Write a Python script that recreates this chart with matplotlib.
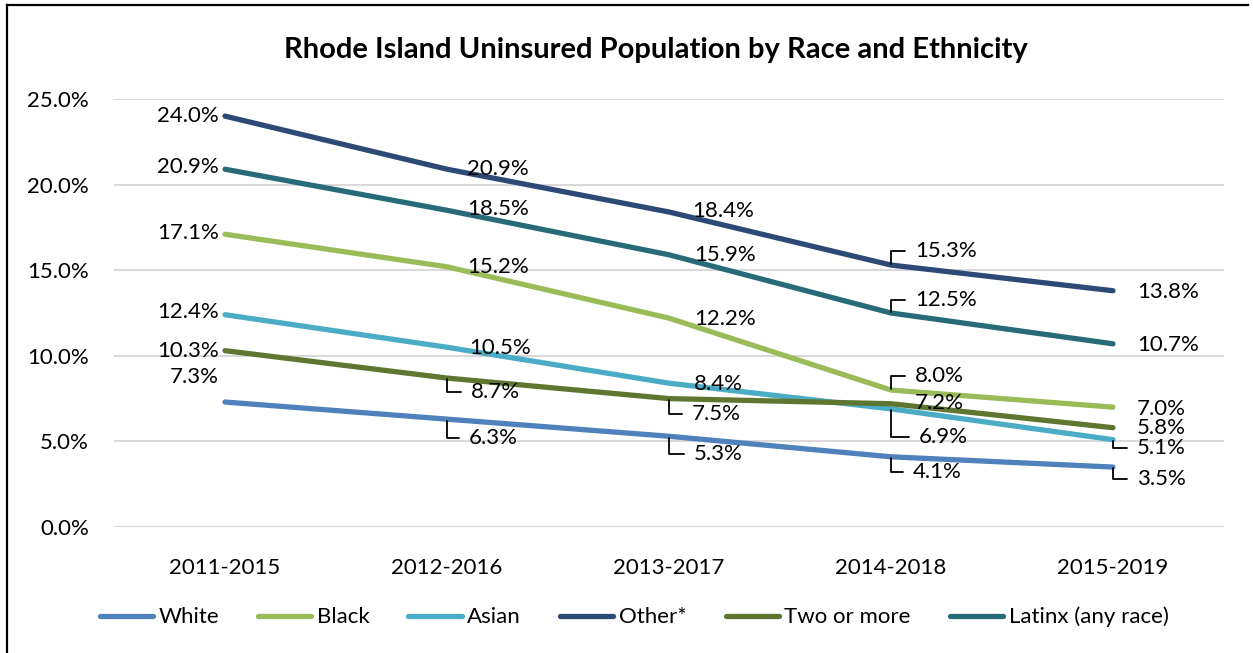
import numpy as np
import matplotlib.pyplot as plt
from matplotlib.lines import Line2D
from matplotlib.ticker import PercentFormatter

# --------------------------------------------------------------
# Data: uninsured share (%) by 5-year ACS period
# --------------------------------------------------------------
periods = ["2011-2015", "2012-2016", "2013-2017", "2014-2018", "2015-2019"]

white = [7.3, 6.3, 5.3, 4.1, 3.5]
black = [17.1, 15.2, 12.2, 8.0, 7.0]
asian = [12.4, 10.5, 8.4, 6.9, 5.1]
other = [24.0, 20.9, 18.4, 15.3, 13.8]
two_or_more = [10.3, 8.7, 7.5, 7.2, 5.8]
latinx = [20.9, 18.5, 15.9, 12.5, 10.7]

series = [
    ("White", white, "#4F81BD"),
    ("Black", black, "#9BBB59"),
    ("Asian", asian, "#4BACC6"),
    ("Other*", other, "#2C4A75"),
    ("Two or more", two_or_more, "#5E7630"),
    ("Latinx (any race)", latinx, "#276B78"),
]

# label offsets in pixels (dx, dy) from each point; True = draw a leader line
label_pos = {
    "White": [(-6, 25, False), (22, -19, True), (25, -18, True), (22, -15, True), (24, -12, True)],
    "Black": [(-6, 1, False), (20, 0, False), (25, -1, False), (24, 14, True), (24, -2, False)],
    "Asian": [(-6, 3, False), (22, -1, False), (25, -1, False), (28, -28, True), (24, -8, True)],
    "Other*": [(-6, 0, False), (20, 0, False), (23, 1, False), (24, 14, True), (24, -1, False)],
    "Two or more": [(-6, 0, False), (24, -14, True), (23, -15, True), (24, 1, False), (24, 0, False)],
    "Latinx (any race)": [(-6, 2, False), (20, 1, False), (25, 0, False), (24, 13, True), (24, -1, False)],
}

plt.rcParams["font.family"] = ["Lato", "DejaVu Sans"]

fig = plt.figure(figsize=(12.53, 6.53), dpi=100)
ax = fig.add_axes([114 / 1253, 1 - 527 / 653, 1110 / 1253, 428 / 653])

x = np.arange(len(periods))
for name, vals, color in series:
    ax.plot(x, vals, color=color, lw=3.8, solid_capstyle="round", solid_joinstyle="round",
            label=name, zorder=3)

for name, vals, color in series:
    for i, v in enumerate(vals):
        dx, dy, leader = label_pos[name][i]
        ha = "right" if dx < 0 else "left"
        kw = {}
        if leader:
            kw["arrowprops"] = dict(arrowstyle="-", color="black", lw=1.3,
                                    connectionstyle="angle,angleA=0,angleB=90,rad=0",
                                    relpos=(0, 0.5), shrinkA=5, shrinkB=1)
        ax.annotate(f"{v:.1f}%", xy=(i, v), xytext=(dx, dy), textcoords="offset pixels",
                    ha=ha, va="center", fontsize=16, color="black", zorder=4, **kw)

ax.set_xlim(-0.5, len(periods) - 0.5)
ax.set_ylim(0, 25)
ax.set_yticks(np.arange(0, 26, 5))
ax.yaxis.set_major_formatter(PercentFormatter(decimals=1))
ax.set_xticks(x)
ax.set_xticklabels(periods)
ax.tick_params(axis="both", length=0, labelsize=16)
ax.tick_params(axis="x", pad=22)
ax.tick_params(axis="y", pad=18)
ax.grid(axis="y", color="#D9D9D9", lw=1.5, zorder=0)
for s in ax.spines.values():
    s.set_visible(False)

fig.text(656 / 1253, 1 - 50 / 653, "Rhode Island Uninsured Population by Race and Ethnicity",
         ha="center", va="center", fontsize=21, fontweight="bold")

fig.legend(loc="center", bbox_to_anchor=(634 / 1253, 1 - 617 / 653), ncol=6, frameon=False,
           fontsize=16, handlelength=2.4, handletextpad=0.25, columnspacing=1.75)

# outer frame (left and top edges)
fig.add_artist(Line2D([7 / 1253, 7 / 1253], [0, 1 - 5 / 653], color="black", lw=1.6))
fig.add_artist(Line2D([7 / 1253, 1248 / 1253], [1 - 5 / 653, 1 - 5 / 653], color="black", lw=1.6))

fig.savefig("out.png", dpi=100)
